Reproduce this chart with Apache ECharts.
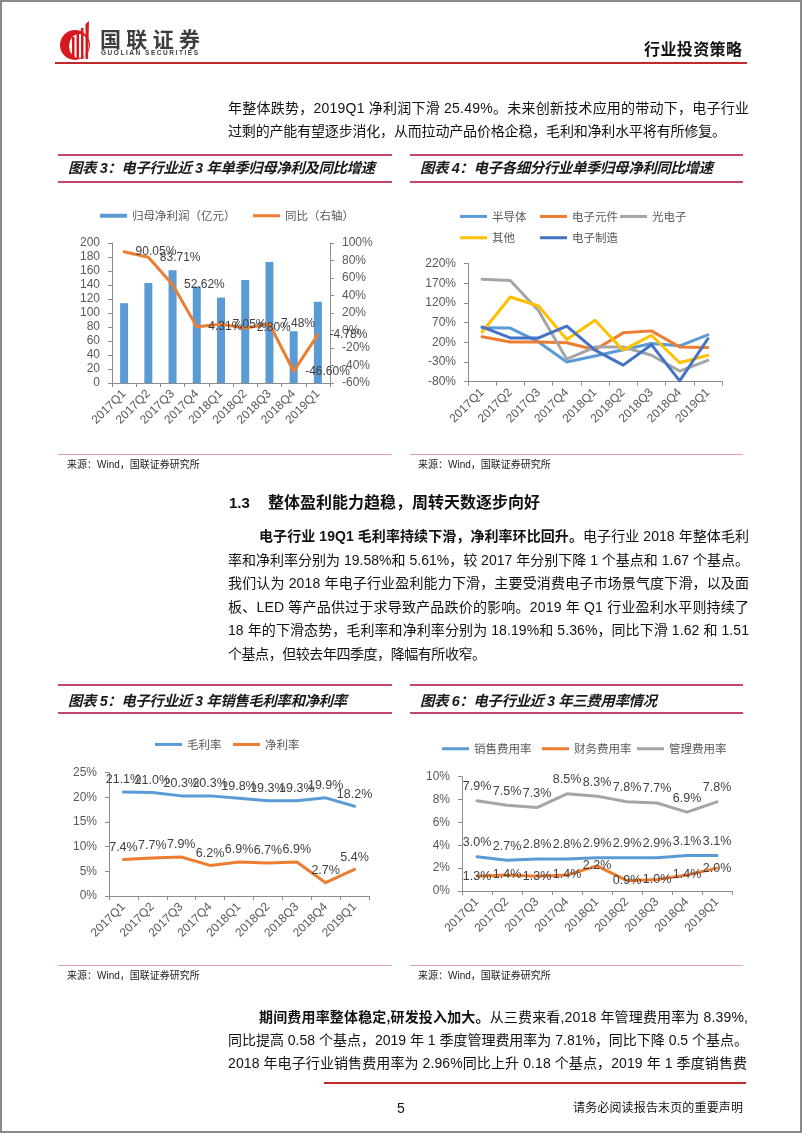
<!DOCTYPE html>
<html lang="zh-CN"><head><meta charset="utf-8">
<title>电子行业 行业投资策略</title>
<script src="https://cdn.jsdelivr.net/npm/echarts@6.0.0/dist/echarts.min.js"></script>
<style>
html,body{margin:0;padding:0;background:#fff;}
#page{position:relative;width:802px;height:1133px;overflow:hidden;background:#fff;font-family:"Liberation Sans","Noto Sans CJK SC",sans-serif;color:#111;}
#chart{position:absolute;left:0;top:0;width:802px;height:1133px;z-index:1;}
.a{position:absolute;white-space:nowrap;z-index:2;line-height:20px;}
.body{font-size:14px;}
.rule{position:absolute;z-index:2;}
.ttl{font-size:14.5px;font-weight:bold;font-style:italic;color:#1a1a1a;}
.src{font-size:10px;color:#222;}
#frame{position:absolute;left:0;top:0;width:802px;height:1133px;box-sizing:border-box;border:2px solid #8a8a8a;z-index:5;pointer-events:none;}
</style></head>
<body>
<div id="page">
  <div id="chart"></div>

  <!-- header -->
  <svg class="rule" style="left:60px;top:21px" width="32" height="40" viewBox="0 0 32 40">
    <circle cx="15" cy="24" r="15" fill="#d7191f"/>
    <ellipse cx="19" cy="25" rx="10" ry="12" fill="#fff"/>
    <rect x="12" y="16" width="2.5" height="22" fill="#d7191f"/>
    <rect x="16.5" y="12" width="2.5" height="26" fill="#d7191f"/>
    <rect x="21" y="7" width="2.5" height="31" fill="#d7191f"/>
    <polygon points="25.5,38 25.5,3 29,0 28,38" fill="#d7191f"/>
  </svg>
  <div class="a fit" data-w="100" style="left:100px;top:30px;font-size:21px;color:#3d3d3d;font-weight:bold;">国联证券</div>
  <div class="a fit" data-w="97" style="left:101px;top:43px;font-size:6.5px;color:#3d3d3d;font-weight:bold;">GUOLIAN SECURITIES</div>
  <div class="a fit" data-w="98" style="left:644px;top:40px;font-size:16px;font-weight:bold;color:#111;">行业投资策略</div>
  <div class="rule" style="left:55px;top:62px;width:692px;height:2px;background:#c0282d;"></div>

  <!-- top paragraph -->
  <div class="a body fit" data-w="521" style="left:228px;top:98px;">年整体跌势，2019Q1 净利润下滑 25.49%。未来创新技术应用的带动下，电子行业</div>
  <div class="a body fit" data-w="498" style="left:228px;top:121px;">过剩的产能有望逐步消化，从而拉动产品价格企稳，毛利和净利水平将有所修复。</div>

  <!-- chart titles 3/4 -->
  <div class="rule" style="left:58px;top:154px;width:334px;height:2px;background:#c4466b;"></div>
  <div class="rule" style="left:58px;top:181px;width:334px;height:2px;background:#c4466b;"></div>
  <div class="a ttl fit" data-w="307" style="left:68px;top:158px;">图表 3：电子行业近 3 年单季归母净利及同比增速</div>
  <div class="rule" style="left:410px;top:154px;width:333px;height:2px;background:#c4466b;"></div>
  <div class="rule" style="left:410px;top:181px;width:333px;height:2px;background:#c4466b;"></div>
  <div class="a ttl fit" data-w="293" style="left:420px;top:158px;">图表 4：电子各细分行业单季归母净利同比增速</div>
  <div class="rule" style="left:58px;top:454px;width:334px;height:1px;background:#e3a3b5;"></div>
  <div class="rule" style="left:410px;top:454px;width:333px;height:1px;background:#e3a3b5;"></div>
  <div class="a src" style="left:67px;top:455px;">来源：Wind，国联证券研究所</div>
  <div class="a src" style="left:418px;top:455px;">来源：Wind，国联证券研究所</div>

  <!-- section -->
  <div class="a" style="left:229px;top:493px;font-size:15px;font-weight:bold;">1.3</div>
  <div class="a fit" data-w="272" style="left:268px;top:493px;font-size:16px;font-weight:bold;">整体盈利能力趋稳，周转天数逐步向好</div>

  <div class="a body fit" data-w="490" style="left:259px;top:526px;"><b>电子行业 19Q1 毛利率持续下滑，净利率环比回升。</b>电子行业 2018 年整体毛利</div>
  <div class="a body fit" data-w="521" style="left:228px;top:549.5px;">率和净利率分别为 19.58%和 5.61%，较 2017 年分别下降 1 个基点和 1.67 个基点。</div>
  <div class="a body fit" data-w="521" style="left:228px;top:573px;">我们认为 2018 年电子行业盈利能力下滑，主要受消费电子市场景气度下滑，以及面</div>
  <div class="a body fit" data-w="521" style="left:228px;top:596.5px;">板、LED 等产品供过于求导致产品跌价的影响。2019 年 Q1 行业盈利水平则持续了</div>
  <div class="a body fit" data-w="521" style="left:228px;top:620px;">18 年的下滑态势，毛利率和净利率分别为 18.19%和 5.36%，同比下滑 1.62 和 1.51</div>
  <div class="a body fit" data-w="258" style="left:228px;top:643.5px;">个基点，但较去年四季度，降幅有所收窄。</div>

  <!-- chart titles 5/6 -->
  <div class="rule" style="left:58px;top:684px;width:334px;height:2px;background:#c4466b;"></div>
  <div class="rule" style="left:58px;top:712px;width:334px;height:2px;background:#c4466b;"></div>
  <div class="a ttl fit" data-w="279" style="left:68px;top:690.5px;">图表 5：电子行业近 3 年销售毛利率和净利率</div>
  <div class="rule" style="left:410px;top:684px;width:333px;height:2px;background:#c4466b;"></div>
  <div class="rule" style="left:410px;top:712px;width:333px;height:2px;background:#c4466b;"></div>
  <div class="a ttl fit" data-w="237" style="left:420px;top:690.5px;">图表 6：电子行业近 3 年三费用率情况</div>
  <div class="rule" style="left:58px;top:965px;width:334px;height:1px;background:#e3a3b5;"></div>
  <div class="rule" style="left:410px;top:965px;width:333px;height:1px;background:#e3a3b5;"></div>
  <div class="a src" style="left:67px;top:966px;">来源：Wind，国联证券研究所</div>
  <div class="a src" style="left:418px;top:966px;">来源：Wind，国联证券研究所</div>

  <!-- bottom paragraph -->
  <div class="a body fit" data-w="489" style="left:259px;top:1007px;"><b>期间费用率整体稳定,研发投入加大。</b>从三费来看,2018 年管理费用率为 8.39%,</div>
  <div class="a body fit" data-w="520" style="left:228px;top:1030px;">同比提高 0.58 个基点，2019 年 1 季度管理费用率为 7.81%，同比下降 0.5 个基点。</div>
  <div class="a body fit" data-w="519" style="left:228px;top:1053px;">2018 年电子行业销售费用率为 2.96%同比上升 0.18 个基点，2019 年 1 季度销售费</div>

  <div class="rule" style="left:324px;top:1082px;width:422px;height:2px;background:#c0282d;"></div>
  <div class="a" style="left:397px;top:1098px;font-size:14px;">5</div>
  <div class="a fit" data-w="170" style="left:573px;top:1098px;font-size:12px;">请务必阅读报告末页的重要声明</div>

  <div id="frame"></div>
</div>

<script>
// ---------- data ----------
const categories = ['2017Q1','2017Q2','2017Q3','2017Q4','2018Q1','2018Q2','2018Q3','2018Q4','2019Q1'];

// 图表3
const netProfit = [114, 143, 161, 138, 122, 147, 173, 74, 116];          // 归母净利润（亿元）
const netProfitYoY = [90.05, 83.71, 52.62, 4.31, 7.05, 2.80, 7.48, -46.60, -4.78]; // 同比（右轴）%

// 图表4 （%）
const semiconductor = [57, 56, 21, -30, -15, 1, 17, 11, 39];   // 半导体
const components    = [34, 21, 21, 19, 1, 44, 49, 8, 7];       // 电子元件
const optoelec      = [180, 177, 100, -23, 8, 8, -13, -53, -26]; // 光电子
const others        = [46, 135, 112, 27, 76, 0, 38, -32, -13]; // 其他
const manufacturing = [59, 31, 31, 61, 0, -38, 14, -78, 29];   // 电子制造
const chart4Ticks   = [-80, -30, 20, 70, 120, 170, 220];

// 图表5 （%）
const grossMargin = [21.1, 21.0, 20.3, 20.3, 19.8, 19.3, 19.3, 19.9, 18.2]; // 毛利率
const netMargin   = [7.4, 7.7, 7.9, 6.2, 6.9, 6.7, 6.9, 2.7, 5.4];          // 净利率

// 图表6 （%）
const sellingRate = [3.0, 2.7, 2.8, 2.8, 2.9, 2.9, 2.9, 3.1, 3.1]; // 销售费用率
const financeRate = [1.3, 1.4, 1.3, 1.4, 2.2, 0.9, 1.0, 1.4, 2.0]; // 财务费用率
const adminRate   = [7.9, 7.5, 7.3, 8.5, 8.3, 7.8, 7.7, 6.9, 7.8]; // 管理费用率

// ---------- text fitting ----------
document.querySelectorAll('.fit').forEach(el => {
  const target = +el.dataset.w;
  const w = el.getBoundingClientRect().width;
  const n = Math.max(1, el.textContent.length - 1);
  el.style.letterSpacing = ((target - w) / n) + 'px';
});

// ---------- chart ----------
const AX = '#8c8c8c', LBL = '#595959', DL = '#404040';
const FONT = 'Liberation Sans';
const CJK = 'Noto Sans CJK SC';
const BLUE = '#5B9BD5', ORANGE = '#ED7D31', GRAY = '#A5A5A5', GOLD = '#FFC000', DBLUE = '#4472C4';

function xAx(grid) {
  return {
    type: 'category', gridIndex: grid, data: categories, boundaryGap: true,
    axisLine: { onZero: false, lineStyle: { color: AX, width: 1 } },
    axisTick: { show: true, length: 4, lineStyle: { color: AX } },
    axisLabel: { rotate: 45, interval: 0, margin: 9, fontSize: 12, color: LBL, fontFamily: FONT },
    splitLine: { show: false }
  };
}
function yAx(grid, min, max, interval, pct, pos, custom) {
  const o = {
    type: 'value', gridIndex: grid, min: min, max: max, interval: interval, position: pos || 'left',
    axisLine: { show: true, lineStyle: { color: AX, width: 1 } },
    axisTick: { show: true, length: 4, lineStyle: { color: AX } },
    axisLabel: { margin: 12, fontSize: 12, color: LBL, fontFamily: FONT, formatter: pct ? '{value}%' : '{value}' },
    splitLine: { show: false }
  };
  if (custom) { o.axisLabel.customValues = custom; o.axisTick.customValues = custom; }
  return o;
}
function lineS(name, data, color, xi, yi, label) {
  const s = {
    name: name, type: 'line', data: data, xAxisIndex: xi, yAxisIndex: yi,
    symbol: 'circle', symbolSize: 1, showSymbol: true, smooth: false,
    lineStyle: { color: color, width: 3, cap: 'round', join: 'round' },
    itemStyle: { color: color },
    emphasis: { disabled: true },
    label: { show: false }
  };
  if (label) s.label = Object.assign({ show: true, color: DL, fontSize: 12.5, fontFamily: FONT }, label);
  return s;
}
function leg(name, left, cy, w, h) {
  return {
    data: [name], left: left, top: cy - 7, padding: 0, itemWidth: w || 27, itemHeight: h || 3,
    icon: 'rect', selectedMode: false, itemGap: 0,
    textStyle: { fontSize: 11.5, color: LBL, fontFamily: CJK }
  };
}
const pct1 = p => p.value.toFixed(1) + '%';
const pct2 = p => p.value.toFixed(2) + '%';

const option = {
  animation: false,
  grid: [
    { left: 112, top: 243, width: 218, height: 140 },
    { left: 468, top: 263.5, width: 254, height: 118.2 },
    { left: 109, top: 772.7, width: 260, height: 123.3 },
    { left: 462, top: 776.7, width: 270, height: 114.3 }
  ],
  xAxis: [xAx(0), xAx(1), xAx(2), xAx(3)],
  yAxis: [
    yAx(0, 0, 200, 20, false, 'left'),
    yAx(0, -60, 100, 20, true, 'right'),
    yAx(1, -80, 220, 50, true, 'left', chart4Ticks),
    yAx(2, 0, 25, 5, true, 'left'),
    yAx(3, 0, 10, 2, true, 'left')
  ],
  legend: [
    leg('归母净利润（亿元）', 100, 217, 27, 4),
    leg('同比（右轴）', 253, 217),
    leg('半导体', 460, 217.7),
    leg('电子元件', 540, 217.7),
    leg('光电子', 620, 217.7),
    leg('其他', 460, 239),
    leg('电子制造', 540, 239),
    leg('毛利率', 155, 745.7),
    leg('净利率', 233, 745.7),
    leg('销售费用率', 442, 750),
    leg('财务费用率', 542, 750),
    leg('管理费用率', 637, 750)
  ],
  series: [
    { name: '归母净利润（亿元）', type: 'bar', data: netProfit, xAxisIndex: 0, yAxisIndex: 0,
      barWidth: 8, itemStyle: { color: BLUE }, emphasis: { disabled: true } },
    lineS('同比（右轴）', netProfitYoY, ORANGE, 0, 1,
      { position: 'right', distance: 11, fontSize: 12, formatter: pct2 }),

    lineS('半导体', semiconductor, BLUE, 1, 2),
    lineS('电子元件', components, ORANGE, 1, 2),
    lineS('光电子', optoelec, GRAY, 1, 2),
    lineS('其他', others, GOLD, 1, 2),
    lineS('电子制造', manufacturing, DBLUE, 1, 2),

    lineS('毛利率', grossMargin, BLUE, 2, 3, { position: 'top', distance: 5, formatter: pct1 }),
    lineS('净利率', netMargin, ORANGE, 2, 3, { position: 'top', distance: 5, formatter: pct1 }),

    lineS('销售费用率', sellingRate, BLUE, 3, 4, { position: 'top', distance: 7, formatter: pct1 }),
    lineS('财务费用率', financeRate, ORANGE, 3, 4, { position: 'inside', formatter: pct1 }),
    lineS('管理费用率', adminRate, GRAY, 3, 4, { position: 'top', distance: 7, formatter: pct1 })
  ]
};
const chart = echarts.init(document.getElementById('chart'));
chart.setOption(option);
</script>
</body></html>
